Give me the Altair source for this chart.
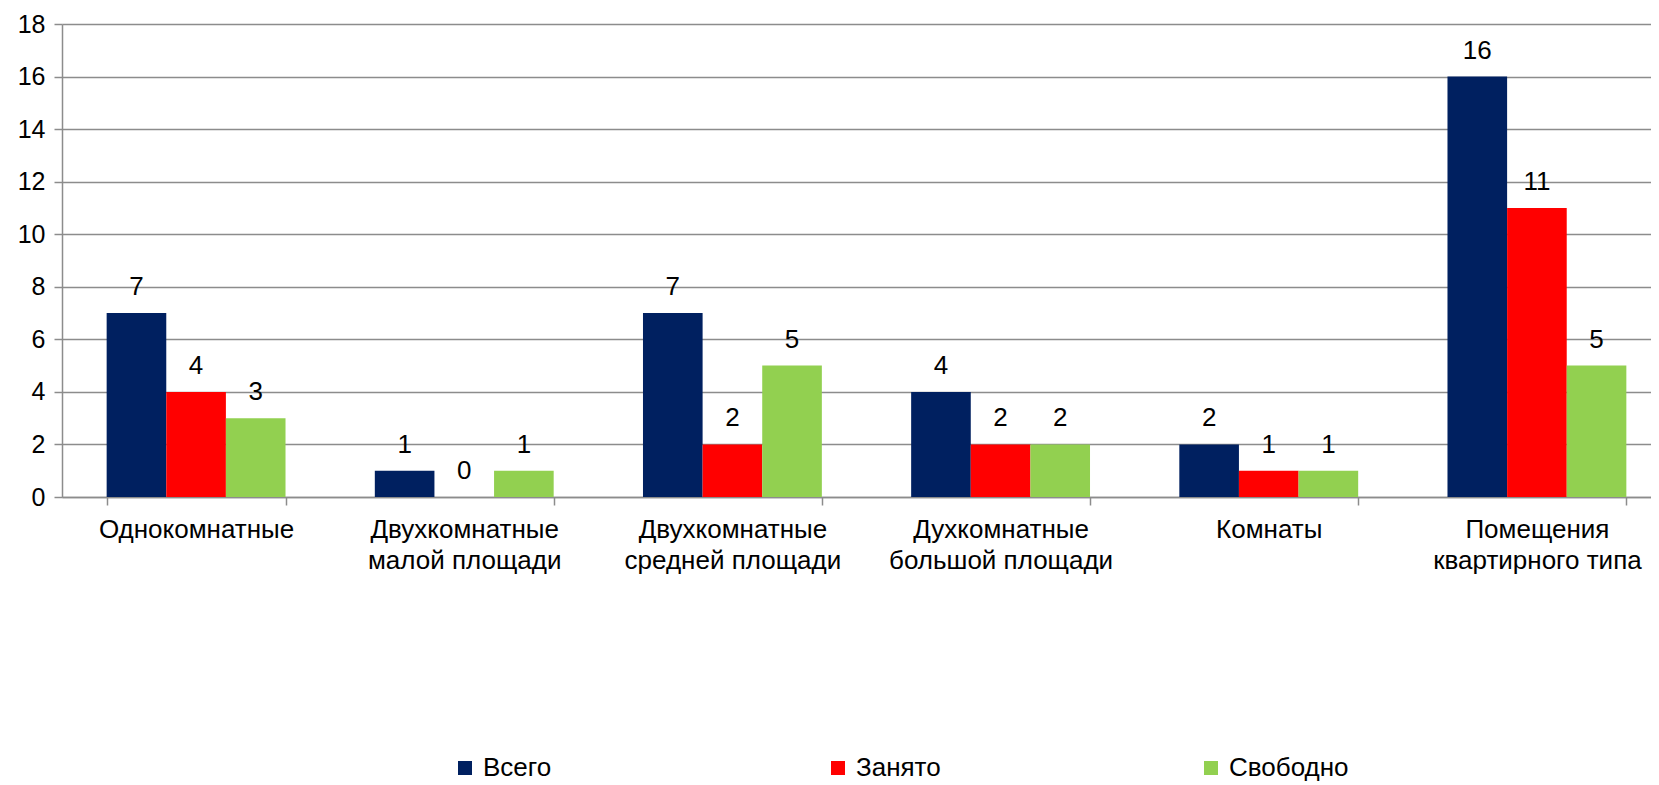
import altair as alt
import pandas as pd

categories = [
    "Однокомнатные",
    "Двухкомнатные\nмалой площади",
    "Двухкомнатные\nсредней площади",
    "Духкомнатные\nбольшой площади",
    "Комнаты",
    "Помещения\nквартирного типа",
]
series = ["Всего", "Занято", "Свободно"]
total = [7, 1, 7, 4, 2, 16]
occupied = [4, 0, 2, 2, 1, 11]
free = [3, 1, 5, 2, 1, 5]
colors = ["#002060", "#FF0000", "#92D050"]
y_ticks = [0, 2, 4, 6, 8, 10, 12, 14, 16, 18]

rows = []
for i, c in enumerate(categories):
    for s, vals in zip(series, [total, occupied, free]):
        rows.append({"cat": c, "series": s, "value": vals[i]})
df = pd.DataFrame(rows)

FONT = "Liberation Sans"
GRID = "#8c8c8c"

x = alt.X(
    "cat:N",
    sort=categories,
    title=None,
    scale=alt.Scale(range=[0, 1609], paddingInner=0.333, paddingOuter=0.1665),
    axis=alt.Axis(
        labelAngle=0,
        labelFontSize=26,
        labelFont=FONT,
        labelColor="black",
        labelExpr="split(datum.label, '\\n')",
        labelLineHeight=31,
        labelPadding=11,
        labelLimit=500,
        labelOverlap=False,
        tickBand="extent",
        tickSize=8,
        tickColor=GRID,
        tickWidth=1.5,
        domainColor=GRID,
        domainWidth=1.5,
        grid=False,
    ),
)
xo = alt.XOffset("series:N", sort=series, scale=alt.Scale(paddingInner=0, paddingOuter=0))
y = alt.Y(
    "value:Q",
    title=None,
    scale=alt.Scale(domain=[0, 18], nice=False),
    axis=alt.Axis(
        values=y_ticks,
        grid=True,
        gridColor=GRID,
        gridWidth=1.5,
        labelFontSize=25,
        labelFont=FONT,
        labelColor="black",
        labelPadding=9,
        tickSize=8,
        tickColor=GRID,
        tickWidth=1.5,
        domainColor=GRID,
        domainWidth=1.5,
    ),
)

bars = alt.Chart().mark_bar().encode(
    x=x,
    xOffset=xo,
    y=y,
    color=alt.Color(
        "series:N",
        sort=series,
        scale=alt.Scale(domain=series, range=colors),
        legend=alt.Legend(
            orient="none",
            legendX=390,
            legendY=731,
            direction="horizontal",
            columns=3,
            title=None,
            symbolType="square",
            symbolSize=196,
            symbolStrokeWidth=0,
            labelFontSize=26,
            labelFont=FONT,
            labelColor="black",
            labelOffset=5,
            columnPadding=222,
            gridAlign="all",
            padding=0,
        ),
    ),
)

labels = alt.Chart().mark_text(
    dy=-18, baseline="alphabetic", fontSize=26, font=FONT, color="black"
).encode(x=x, xOffset=xo, y=y, text="value:Q")

chart = (
    alt.layer(bars, labels, data=df)
    .properties(
        width=1589,
        height=473,
        autosize=alt.AutoSizeParams(type="none"),
        padding={"left": 54, "top": 16, "right": 0, "bottom": 288},
    )
    .configure(font=FONT)
    .configure_view(strokeWidth=0)
)

chart.save("out.html", embed_options={"renderer": "svg", "actions": False})
